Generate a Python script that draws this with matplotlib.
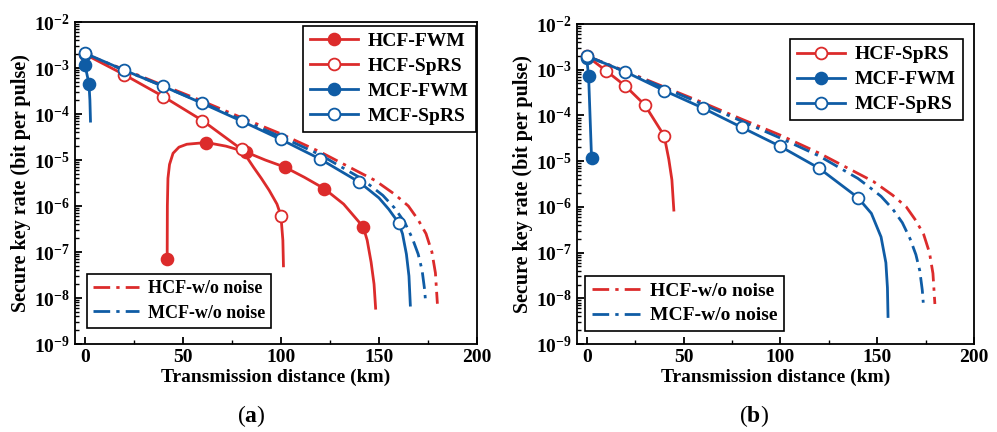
import matplotlib
matplotlib.use("Agg")
import matplotlib.pyplot as plt
from matplotlib.ticker import LogLocator, MultipleLocator, NullFormatter

plt.rcParams['font.family'] = ['Liberation Serif', 'DejaVu Serif']
plt.rcParams['font.weight'] = 'bold'
plt.rcParams['mathtext.fontset'] = 'custom'
plt.rcParams['mathtext.rm'] = 'Liberation Serif:bold'
plt.rcParams['mathtext.bf'] = 'Liberation Serif:bold'
plt.rcParams['mathtext.it'] = 'Liberation Serif:bold:italic'

RED = '#DC2B2B'
BLUE = '#0F5CA5'

## (a) HCF-FWM, markers every 20 km from 42 km
a_hfwm_x = [42, 42.1, 42.4, 43.2, 45, 48, 52, 62, 72, 82, 92, 102, 112, 122, 132, 142, 144, 146, 147.5, 148.3]
a_hfwm_y = [7e-8, 1e-6, 4e-6, 8e-6, 1.4e-5, 1.9e-5, 2.2e-5, 2.4e-5, 2e-5, 1.5e-5, 1e-5, 7e-6, 4.2e-6, 2.4e-6, 1.1e-6, 3.5e-7, 1.8e-7, 6e-8, 2e-8, 6e-9]
a_hfwm_mk = [0, 7, 9, 11, 13, 15]

## (a) HCF-SpRS
a_hsprs_x = [0, 20, 40, 60, 80, 86, 90, 94, 98, 100, 101, 101.3]
a_hsprs_y = [2e-3, 7.2e-4, 2.4e-4, 7.2e-5, 1.7e-5, 7e-6, 4e-6, 2.2e-6, 1.1e-6, 6.2e-7, 1.8e-7, 5e-8]
a_hsprs_mk = [0, 1, 2, 3, 4, 9]

## (a) MCF-FWM
a_mfwm_x = [0, 0.1, 2.1, 2.6, 2.9]
a_mfwm_y = [2e-3, 1.15e-3, 4.6e-4, 2e-4, 7e-5]
a_mfwm_mk = [0, 1, 2]

## (a) MCF-SpRS
a_msprs_x = [0, 20, 40, 60, 80, 100, 120, 140, 150, 155, 160, 162, 164, 165.3, 166]
a_msprs_y = [2.1e-3, 9e-4, 4e-4, 1.7e-4, 7e-5, 2.8e-5, 1.05e-5, 3.3e-6, 1.5e-6, 8.5e-7, 4.3e-7, 2.5e-7, 9e-8, 3e-8, 7e-9]
a_msprs_mk = [0, 1, 2, 3, 4, 5, 6, 7, 10]

## (b) HCF-SpRS
b_hsprs_x = [0, 10, 20, 30, 40, 42.4, 44, 45]
b_hsprs_y = [2e-3, 9.5e-4, 4.4e-4, 1.7e-4, 3.6e-5, 1.1e-5, 3.9e-6, 8.5e-7]
b_hsprs_mk = [0, 1, 2, 3, 4]

## (b) MCF-FWM
b_mfwm_x = [0, 1, 2.5]
b_mfwm_y = [1.8e-3, 7.2e-4, 1.2e-5]
b_mfwm_mk = [0, 1, 2]

## (b) MCF-SpRS
b_msprs_x = [0, 20, 40, 60, 80, 100, 120, 140, 147, 152, 154.5, 155.3, 155.6]
b_msprs_y = [2e-3, 9e-4, 3.5e-4, 1.45e-4, 5.5e-5, 2.1e-5, 7e-6, 1.6e-6, 7.2e-7, 2.2e-7, 6e-8, 1.7e-8, 4e-9]
b_msprs_mk = [0, 1, 2, 3, 4, 5, 6, 7]

## without noise (both panels)
hcf_free_x = [0, 20, 40, 60, 80, 100, 120, 140, 148, 158, 165, 170, 174, 177, 178.8, 179.8]
hcf_free_y = [2e-3, 9.3e-4, 4.2e-4, 1.9e-4, 8.3e-5, 3.7e-5, 1.5e-5, 5.4e-6, 3.6e-6, 1.8e-6, 1e-6, 5e-7, 2.5e-7, 1e-7, 3.5e-8, 7.5e-9]
mcf_free_x = [0, 20, 40, 60, 80, 100, 120, 140, 146, 152, 158, 163, 167, 170, 172, 173.3, 173.8]
mcf_free_y = [2e-3, 9e-4, 4e-4, 1.75e-4, 7.5e-5, 3.2e-5, 1.3e-5, 4.2e-6, 2.7e-6, 1.7e-6, 9e-7, 4.5e-7, 2e-7, 9e-8, 4e-8, 1.5e-8, 8e-9]

fig = plt.figure(figsize=(9.97, 4.32), dpi=100)
axA = fig.add_axes([75/997, 1-344/432, 402/997, 322/432])
axB = fig.add_axes([577/997, 1-344/432, 397/997, 320/432])

ms = 8.5
lw = 2.0
dd = (0, (6, 2.2, 1.2, 2.2))


def curve(ax, x, y, color, filled, mk, label):
    return ax.plot(x, y, '-', color=color, lw=lw, marker='o', markevery=mk, ms=ms,
                   mfc=color if filled else 'white', mec=color, mew=1.3, label=label)[0]


def free(ax):
    h1 = ax.plot(hcf_free_x, hcf_free_y, color=RED, lw=lw, ls=dd, label='HCF-w/o noise')[0]
    h2 = ax.plot(mcf_free_x, mcf_free_y, color=BLUE, lw=lw, ls=dd, label='MCF-w/o noise')[0]
    return [h1, h2]


def style(ax):
    ax.set_yscale('log')
    ax.set_xlim(-5, 200)
    ax.set_ylim(1e-9, 1e-2)
    ax.xaxis.set_major_locator(MultipleLocator(50))
    ax.xaxis.set_minor_locator(MultipleLocator(25))
    ax.yaxis.set_major_locator(LogLocator(base=10, numticks=10))
    ax.yaxis.set_minor_locator(LogLocator(base=10, subs=range(2, 10), numticks=20))
    ax.yaxis.set_minor_formatter(NullFormatter())
    ax.tick_params(which='both', direction='in', top=False, right=False, labelsize=14)
    ax.tick_params(which='major', length=5, width=1.3)
    ax.tick_params(which='minor', length=3, width=1.0)
    for s in ax.spines.values():
        s.set_linewidth(1.3)
    ax.set_xlabel('Transmission distance (km)', fontsize=14, fontweight='bold', labelpad=2)
    ax.set_ylabel('Secure key rate (bit per pulse)', fontsize=14.5, fontweight='bold', labelpad=2)


def leg_kw(fs, spacing):
    return dict(fontsize=fs, frameon=True, fancybox=False, edgecolor='black', framealpha=1,
                handlelength=2.5, labelspacing=spacing, borderpad=0.35, handletextpad=0.5,
                borderaxespad=0)


# panel (a)
free_a = free(axA)
ha = [curve(axA, a_hfwm_x, a_hfwm_y, RED, True, a_hfwm_mk, 'HCF-FWM'),
      curve(axA, a_hsprs_x, a_hsprs_y, RED, False, a_hsprs_mk, 'HCF-SpRS'),
      curve(axA, a_mfwm_x, a_mfwm_y, BLUE, True, a_mfwm_mk, 'MCF-FWM'),
      curve(axA, a_msprs_x, a_msprs_y, BLUE, False, a_msprs_mk, 'MCF-SpRS')]
style(axA)
la = axA.legend(handles=ha, loc='upper right', bbox_to_anchor=(0.997, 0.988), **leg_kw(14, 0.38))
la.get_frame().set_linewidth(1.2)
axA.add_artist(la)
la2 = axA.legend(handles=free_a, loc='lower left', bbox_to_anchor=(0.03, 0.05), **leg_kw(13, 0.4))
la2.get_frame().set_linewidth(1.2)

# panel (b)
free_b = free(axB)
hb = [curve(axB, b_hsprs_x, b_hsprs_y, RED, False, b_hsprs_mk, 'HCF-SpRS'),
      curve(axB, b_mfwm_x, b_mfwm_y, BLUE, True, b_mfwm_mk, 'MCF-FWM'),
      curve(axB, b_msprs_x, b_msprs_y, BLUE, False, b_msprs_mk, 'MCF-SpRS')]
style(axB)
lb = axB.legend(handles=hb, loc='upper right', bbox_to_anchor=(0.972, 0.953), **leg_kw(14, 0.38))
lb.get_frame().set_linewidth(1.2)
axB.add_artist(lb)
lb2 = axB.legend(handles=free_b, loc='lower left', bbox_to_anchor=(0.02, 0.04), **leg_kw(14, 0.35))
lb2.get_frame().set_linewidth(1.2)

fig.text(251/997, 1-416/432, r'($\mathbf{a}$)', ha='center', va='center', fontsize=17, fontweight='normal')
fig.text(754/997, 1-416/432, r'($\mathbf{b}$)', ha='center', va='center', fontsize=17, fontweight='normal')

fig.savefig('out.png', dpi=100)
